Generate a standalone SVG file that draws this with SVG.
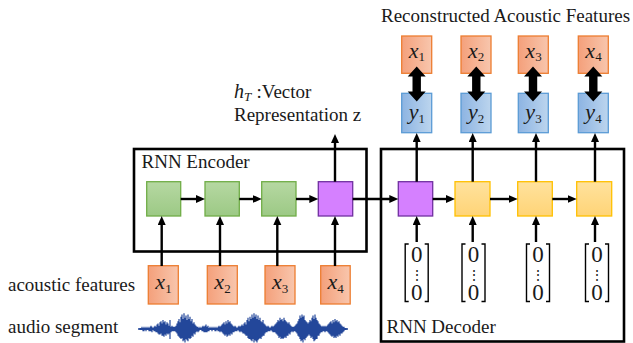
<svg xmlns="http://www.w3.org/2000/svg" width="633" height="343" viewBox="0 0 633 343">
<style>
.t{font-family:"Liberation Serif","Times New Roman",serif;font-size:19px;fill:#1a1a1a}
.m{font-family:"Liberation Serif","Times New Roman",serif;font-size:22px;font-style:italic;fill:#1a1a1a}
.s{font-size:13px;font-style:normal}
.z{font-family:"Liberation Serif","Times New Roman",serif;font-size:23px;fill:#1a1a1a}
.zd{font-family:"DejaVu Serif",serif;font-size:14px;fill:#1a1a1a}
.or{fill:url(#gOr);stroke:#ed7d31;stroke-width:1.3}
.bl{fill:url(#gBl);stroke:#5b9bd5;stroke-width:1.3}
.gr{fill:url(#gGr);stroke:#70ad47;stroke-width:1.3}
.pu{fill:#d580ff;stroke:#7030a0;stroke-width:1.3}
.ye{fill:url(#gYe);stroke:#ffc000;stroke-width:1.3}
.frame{fill:none;stroke:#000;stroke-width:2.6}
.ar{fill:none;stroke:#000;stroke-width:2.4;marker-end:url(#ah)}
.br{fill:none;stroke:#000;stroke-width:1.4}
</style>
<defs>
<linearGradient id="gOr" x1="0" y1="0" x2="1" y2="0"><stop offset="0" stop-color="#f4a07b"/><stop offset="1" stop-color="#f8c6ad"/></linearGradient>
<linearGradient id="gBl" x1="0" y1="0" x2="1" y2="0"><stop offset="0" stop-color="#8db4e2"/><stop offset="1" stop-color="#bcd5ee"/></linearGradient>
<linearGradient id="gGr" x1="0" y1="0" x2="0" y2="1"><stop offset="0" stop-color="#b6d8a2"/><stop offset="1" stop-color="#9cc985"/></linearGradient>
<linearGradient id="gYe" x1="0" y1="0" x2="0" y2="1"><stop offset="0" stop-color="#ffe29d"/><stop offset="1" stop-color="#ffd477"/></linearGradient>
<marker id="ah" markerUnits="userSpaceOnUse" markerWidth="10" markerHeight="9" refX="3" refY="4" orient="auto"><path d="M0,0 L9,4 L0,8 z" fill="#000"/></marker>
<polygon id="dbl" points="0,0 9,10 4.2,10 4.2,25 9,25 0,35 -9,25 -4.2,25 -4.2,10 -9,10" fill="#000"/>
<g id="vec">
<path class="br" d="M-8,0 H-11.5 V57.5 H-8 M8,0 H11.5 V57.5 H8"/>
<text class="z" x="0" y="18" text-anchor="middle">0</text>
<text class="zd" x="0" y="35.5" text-anchor="middle">⋮</text>
<text class="z" x="0" y="56" text-anchor="middle">0</text>
</g>
</defs>

<rect width="633" height="343" fill="#fff"/>

<text class="t" x="381" y="22">Reconstructed Acoustic Features</text>
<text class="t" x="234" y="98"><tspan font-style="italic" font-size="20">h</tspan><tspan font-style="italic" font-size="13" dy="3">T</tspan></text>
<text class="t" x="256.5" y="98">:Vector</text>
<text class="t" x="234" y="121">Representation z</text>
<text class="t" x="8" y="291">acoustic features</text>
<text class="t" x="8" y="333">audio segment</text>

<g id="encoder">
<rect class="frame" x="134" y="149" width="232.5" height="102.5"/>
<text class="t" x="141.5" y="168">RNN Encoder</text>
</g>
<g id="decoder">
<rect class="frame" x="381" y="149" width="243" height="192.5"/>
<text class="t" x="386.5" y="333">RNN Decoder</text>
</g>

<g id="enc1"><rect class="gr" x="146.7" y="181.7" width="34" height="34.3"/></g>
<g id="enc2"><rect class="gr" x="205" y="181.7" width="34.3" height="34.3"/></g>
<g id="enc3"><rect class="gr" x="261.7" y="181.7" width="34.3" height="34.3"/></g>
<g id="enc4"><rect class="pu" x="318.3" y="181.7" width="34.4" height="34.3"/></g>
<g id="dec1"><rect class="pu" x="398.3" y="181.7" width="34.4" height="34.3"/></g>
<g id="dec2"><rect class="ye" x="455" y="181.7" width="35" height="34.3"/></g>
<g id="dec3"><rect class="ye" x="517.7" y="181.7" width="34.6" height="34.3"/></g>
<g id="dec4"><rect class="ye" x="576.7" y="181.7" width="35" height="34.3"/></g>

<g id="in1"><rect class="or" x="148.3" y="265.7" width="30" height="38.3"/><text class="m" x="163.5" y="289" text-anchor="middle">x<tspan class="s" dy="3.5">1</tspan></text></g>
<g id="in2"><rect class="or" x="207.3" y="265.7" width="30" height="38.3"/><text class="m" x="222.5" y="289" text-anchor="middle">x<tspan class="s" dy="3.5">2</tspan></text></g>
<g id="in3"><rect class="or" x="265" y="265.7" width="30" height="38.3"/><text class="m" x="280.2" y="289" text-anchor="middle">x<tspan class="s" dy="3.5">3</tspan></text></g>
<g id="in4"><rect class="or" x="320.7" y="265.7" width="29.5" height="38.3"/><text class="m" x="335.7" y="289" text-anchor="middle">x<tspan class="s" dy="3.5">4</tspan></text></g>

<g id="out1"><rect class="or" x="401.7" y="36" width="30" height="37.3"/><text class="m" x="416.9" y="57.5" text-anchor="middle">x<tspan class="s" dy="3.5">1</tspan></text></g>
<g id="out2"><rect class="or" x="461" y="36" width="30" height="37.3"/><text class="m" x="476.2" y="57.5" text-anchor="middle">x<tspan class="s" dy="3.5">2</tspan></text></g>
<g id="out3"><rect class="or" x="518.3" y="36" width="30" height="37.3"/><text class="m" x="533.5" y="57.5" text-anchor="middle">x<tspan class="s" dy="3.5">3</tspan></text></g>
<g id="out4"><rect class="or" x="578.3" y="36" width="30" height="37.3"/><text class="m" x="593.5" y="57.5" text-anchor="middle">x<tspan class="s" dy="3.5">4</tspan></text></g>

<g id="y1"><rect class="bl" x="401.7" y="93.3" width="30" height="39.4"/><text class="m" x="416.9" y="119" text-anchor="middle">y<tspan class="s" dy="3.5">1</tspan></text></g>
<g id="y2"><rect class="bl" x="461" y="93.3" width="30" height="39.4"/><text class="m" x="476.2" y="119" text-anchor="middle">y<tspan class="s" dy="3.5">2</tspan></text></g>
<g id="y3"><rect class="bl" x="518.3" y="93.3" width="30" height="39.4"/><text class="m" x="533.5" y="119" text-anchor="middle">y<tspan class="s" dy="3.5">3</tspan></text></g>
<g id="y4"><rect class="bl" x="578.3" y="93.3" width="30" height="39.4"/><text class="m" x="593.5" y="119" text-anchor="middle">y<tspan class="s" dy="3.5">4</tspan></text></g>

<g id="zero1"><use href="#vec" x="416.7" y="244"/></g>
<g id="zero2"><use href="#vec" x="473.5" y="244"/></g>
<g id="zero3"><use href="#vec" x="538" y="244"/></g>
<g id="zero4"><use href="#vec" x="597" y="244"/></g>

<g id="connectors">
<path class="ar" d="M180.7,199 H199"/>
<path class="ar" d="M239.3,199 H255.7"/>
<path class="ar" d="M296,199 H312.3"/>
<path class="ar" d="M352.7,199 H392.3"/>
<path class="ar" d="M432.7,199 H449"/>
<path class="ar" d="M490,199 H511.7"/>
<path class="ar" d="M552.3,199 H570.7"/>
<path class="ar" d="M161.7,266 V222"/>
<path class="ar" d="M220,266 V222"/>
<path class="ar" d="M277.3,266 V222"/>
<path class="ar" d="M335,266 V222"/>
<path class="ar" d="M335,181.7 V140"/>
<path class="ar" d="M416.7,181.7 V139"/>
<path class="ar" d="M472.7,181.7 V139"/>
<path class="ar" d="M536,181.7 V139"/>
<path class="ar" d="M595,181.7 V139"/>
<path class="ar" d="M416.7,242 V222"/>
<path class="ar" d="M472.7,242 V222"/>
<path class="ar" d="M536,242 V222"/>
<path class="ar" d="M595,242 V222"/>
<use href="#dbl" x="416.7" y="66.5"/>
<use href="#dbl" x="476.3" y="66.5"/>
<use href="#dbl" x="533" y="66.5"/>
<use href="#dbl" x="593.3" y="66.5"/>
</g>

<g id="waveform" fill="none" stroke="#23479a" stroke-width="1.2" transform="translate(0,329) scale(1,1.12) translate(0,-329)">
<path d="M138 329H348" stroke-width="1.2"/>
<path d="M140 328V330M141 328V330M142 327V330M143 328V331M144 327V331M145 328V330M146 327V331M147 328V330M148 327V330M149 328V331M150 327V331M151 326V331M152 327V332M153 328V330M154 327V331M155 326V331M156 327V332M157 325V332M158 324V333M159 326V334M160 323V334M161 322V333M162 324V335M163 321V335M164 323V336M165 322V334M166 325V335M167 323V333M168 324V334M169 326V333M170 321V338M171 327V332M172 326V331M173 327V331M174 327V331M175 327V331M176 326V332M177 324V333M178 322V335M179 320V336M180 323V337M181 318V338M182 316V337M183 320V340M184 315V339M185 319V341M186 317V338M187 321V339M188 316V340M189 320V337M190 318V338M191 322V337M192 320V335M193 324V336M194 323V333M195 325V334M196 326V332M197 327V331M198 327V332M199 328V331M200 327V330M201 328V330M202 327V331M203 326V331M204 327V332M205 326V332M206 325V332M207 327V332M208 326V331M209 328V331M210 327V330M211 328V330M212 327V331M213 328V330M214 327V330M215 328V331M216 327V331M217 328V330M218 327V331M219 326V331M220 327V332M221 326V331M222 325V332M223 324V333M224 323V334M225 325V335M226 322V334M227 324V336M228 321V335M229 323V334M230 322V335M231 324V333M232 325V334M233 326V332M234 327V332M235 326V331M236 327V331M237 328V331M238 327V330M239 326V331M240 327V332M241 326V331M242 325V332M243 326V333M244 324V333M245 323V334M246 325V335M247 321V335M248 319V337M249 322V338M250 318V338M251 320V339M252 316V340M253 319V338M254 315V341M255 318V339M256 316V340M257 320V341M258 317V339M259 321V338M260 319V337M261 322V338M262 323V336M263 321V335M264 324V335M265 325V333M266 326V332M267 327V332M268 326V331M269 327V331M270 328V331M271 327V330M272 326V331M273 327V332M274 326V332M275 325V332M276 324V333M277 323V334M278 321V335M279 322V337M280 319V336M281 321V338M282 320V337M283 322V338M284 319V337M285 321V336M286 322V337M287 323V335M288 324V335M289 323V333M290 325V334M291 326V332M292 327V331M293 327V332M294 327V331M295 326V331M296 325V332M297 324V333M298 322V335M299 320V336M300 317V338M301 319V340M302 316V339M303 318V341M304 317V338M305 321V339M306 322V337M307 323V336M308 324V335M309 323V334M310 321V335M311 322V337M312 319V336M313 317V338M314 320V340M315 316V339M316 319V338M317 321V338M318 322V335M319 324V335M320 325V333M321 326V332M322 327V332M323 326V331M324 327V331M325 326V332M326 327V331M327 326V331M328 325V332M329 324V333M330 323V334M331 322V335M332 324V336M333 321V335M334 323V337M335 320V336M336 322V337M337 321V335M338 323V336M339 322V334M340 324V335M341 325V333M342 326V333M343 327V332M344 327V331M345 328V330M346 328V330"/>
</g>
</svg>
